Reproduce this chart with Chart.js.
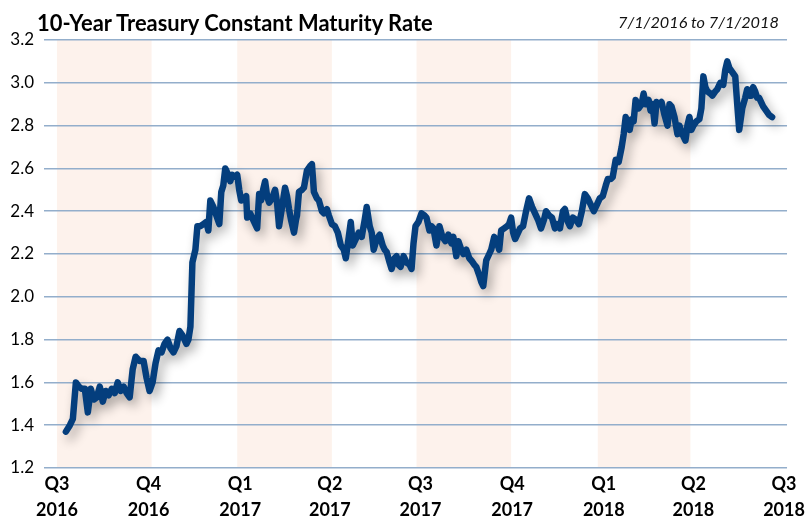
<!DOCTYPE html>
<html><head><meta charset="utf-8">
<script src="https://cdn.jsdelivr.net/npm/chart.js@4.4.0/dist/chart.umd.min.js"></script>
<style>
html,body{margin:0;padding:0;background:#fff;width:809px;height:517px;overflow:hidden}
#wrap{position:relative;width:809px;height:517px}
#title{position:absolute;left:37px;top:12px;font-family:Lato,sans-serif;font-weight:bold;font-size:20px;line-height:1;white-space:nowrap;color:#000}
#range{position:absolute;left:618px;top:14px;font-family:Lato,sans-serif;font-style:italic;font-size:17px;line-height:1;white-space:nowrap;color:#111}
canvas{position:absolute;left:0;top:0}
</style></head>
<body><div id="wrap">
<canvas id="c" width="809" height="517"></canvas>
<div id="title">10-Year Treasury Constant Maturity Rate</div>
<div id="range">7/1/2016 to 7/1/2018</div>
</div>
<script>
// days since 7/1/2016
const days = [9,13,16,19,22,25,28,31,34,37,40,43,46,49,52,55,58,61,64,67,70,73,76,79,83,87,90,93,96,99,102,105,108,111,114,117,120,123,126,130,132,134,136,139,141,
144,147,150,152,154,157,160,163,165,167,169,172,174,176,179,181,183,185,188,190,191,194,197,201,203,205,207,209,211,213,216,219,221,223,226,229,231,233,235,238,240,241,243,246,248,251,254,256,258,261,263,266,268,271,273,276,279,282,285,288,290,293,295,297,300,303,306,309,311,314,316,318,321,324,327,329,331,334,336,339,341,343,345,348,351,354,356,358,360,363,366,369,371,374,376,378,381,384,387,390,393,396,398,401,403,406,408,411,414,416,419,421,424,426,428,431,434,436,439,442,444,446,449,452,454,456,458,460,463,465,468,471,474,477,480,483,486,489,491,494,497,500,502,505,508,510,513,515,518,521,524,527,530,533,536,539,542,545,548,551,553,556,558,561,564,567,569,571,573,575,577,579,581,584,587,589,591,594,596,598,600,602,605,607,610,613,615,617,620,623,625,627,629,631,633,635,637,639,642,645,647,649,651,653,656,658,661,663,666,669,671,673,675,678,681,683,685,688,691,693,695,697,699,701,703,705,707,709,712,715,718];
const rates = [1.37,1.40,1.43,1.60,1.58,1.57,1.57,1.46,1.57,1.52,1.53,1.58,1.51,1.56,1.54,1.57,1.55,1.60,1.56,1.58,1.55,1.53,1.66,1.72,1.70,1.70,1.62,1.56,1.60,1.69,1.75,1.74,1.78,1.80,1.76,1.74,1.77,1.84,1.82,1.78,1.80,1.86,2.16,2.22,2.33,
2.33,2.34,2.35,2.31,2.45,2.42,2.38,2.34,2.49,2.52,2.60,2.57,2.54,2.57,2.56,2.57,2.50,2.45,2.46,2.47,2.37,2.39,2.36,2.32,2.48,2.45,2.50,2.54,2.47,2.44,2.46,2.50,2.44,2.33,2.42,2.51,2.47,2.41,2.36,2.30,2.36,2.38,2.49,2.50,2.51,2.59,2.61,2.62,2.49,2.46,2.45,2.40,2.39,2.41,2.38,2.34,2.33,2.30,2.24,2.22,2.18,2.28,2.35,2.24,2.27,2.30,2.28,2.36,2.42,2.33,2.30,2.22,2.27,2.29,2.24,2.22,2.21,2.16,2.13,2.18,2.19,2.15,2.14,2.19,2.16,2.15,2.13,2.25,2.33,2.35,2.39,2.38,2.37,2.31,2.33,2.32,2.24,2.33,2.28,2.26,2.29,2.25,2.28,2.19,2.26,2.22,2.20,2.22,2.18,2.17,2.15,2.14,2.10,2.07,2.05,2.17,2.20,2.22,2.28,2.25,2.22,2.31,2.32,2.33,2.34,2.37,2.30,2.27,2.30,2.32,2.33,2.40,2.46,2.42,2.39,2.36,2.32,2.36,2.40,2.38,2.37,2.32,2.34,2.32,2.40,2.41,2.35,2.33,2.37,2.36,2.34,2.40,2.48,2.46,2.43,2.40,2.43,2.46,2.47,2.52,2.55,2.55,2.56,2.64,2.63,2.70,2.76,2.84,2.80,2.78,2.83,2.82,2.92,2.88,2.90,2.95,2.90,2.92,2.87,2.90,2.81,2.91,2.90,2.91,2.85,2.80,2.90,2.89,2.84,2.76,2.80,2.77,2.75,2.73,2.80,2.84,2.78,2.80,2.82,2.83,2.88,3.03,2.98,2.96,2.95,2.94,2.96,2.97,3.00,2.99,3.06,3.10,3.07,3.05,3.03,2.90,2.78,2.88,2.93,2.97,2.94,2.94,2.98,2.96,2.93,2.93,2.91,2.89,2.87,2.85,2.84];
const quarterDays = [0,92,184,274,365,457,549,639,730];
const quarterLabels = [['Q3','2016'],['Q4','2016'],['Q1','2017'],['Q2','2017'],['Q3','2017'],['Q4','2017'],['Q1','2018'],['Q2','2018'],['Q3','2018']];
const shadeStart = [0,181,361,543];
const shadeEnd = [95,276,456,636];
const yTicks = [1.2,1.4,1.6,1.8,2.0,2.2,2.4,2.6,2.8,3.0,3.2];

const points = days.map((d,i)=>({x:d,y:rates[i]}));

const bands = {
  id:'bands',
  beforeDraw(chart){
    const {ctx, chartArea:a, scales:{x}} = chart;
    ctx.save();
    ctx.fillStyle = '#FDF2EC';
    shadeStart.forEach((s,i)=>{
      const x0 = x.getPixelForValue(s), x1 = x.getPixelForValue(shadeEnd[i]);
      ctx.fillRect(x0, a.top, x1-x0, a.bottom-a.top);
    });
    ctx.restore();
  }
};
const shadow = {
  id:'shadow',
  beforeDatasetDraw(chart){
    const ctx = chart.ctx;
    ctx.save();
    ctx.shadowColor = 'rgba(0,0,0,0.32)';
    ctx.shadowBlur = 11;
    ctx.shadowOffsetX = 4;
    ctx.shadowOffsetY = 6;
  },
  afterDatasetDraw(chart){ chart.ctx.restore(); }
};

new Chart(document.getElementById('c'), {
  type:'line',
  data:{datasets:[{data:points, borderColor:'#043E7D', borderWidth:6.5, pointRadius:0, tension:0,
    borderJoinStyle:'round', borderCapStyle:'round', fill:false}]},
  options:{
    responsive:false, animation:false, devicePixelRatio:1,
    layout:{padding:{left:0,top:40,right:19,bottom:0}},
    plugins:{legend:{display:false}, tooltip:{enabled:false}},
    scales:{
      x:{type:'linear', min:-13, max:733,
        afterFit(s){ s.height = 49; },
        afterBuildTicks(s){ s.ticks = quarterDays.map(v=>({value:v})); },
        grid:{display:false, drawTicks:false}, border:{display:false},
        ticks:{autoSkip:false, maxRotation:0, padding:4, color:'#000',
          font:{family:'Lato', weight:'bold', size:18, lineHeight:1.4},
          callback:(v,i)=>quarterLabels[i]}
      },
      y:{min:1.2, max:3.2,
        afterFit(s){ s.width = 44; },
        afterBuildTicks(s){ s.ticks = yTicks.map(v=>({value:v})); },
        grid:{color:'#93AECB', lineWidth:1.5, drawTicks:false}, border:{display:false},
        ticks:{padding:10, color:'#000', font:{family:'Lato', size:17}, callback:v=>v.toFixed(1)}
      }
    }
  },
  plugins:[bands, shadow]
});

// fit title widths to reference
function fit(id, w){
  const el = document.getElementById(id);
  const r = el.getBoundingClientRect().width;
  const fs = parseFloat(getComputedStyle(el).fontSize);
  el.style.fontSize = (fs*w/r)+'px';
}
fit('title', 396);
fit('range', 161);
</script>
</body></html>
